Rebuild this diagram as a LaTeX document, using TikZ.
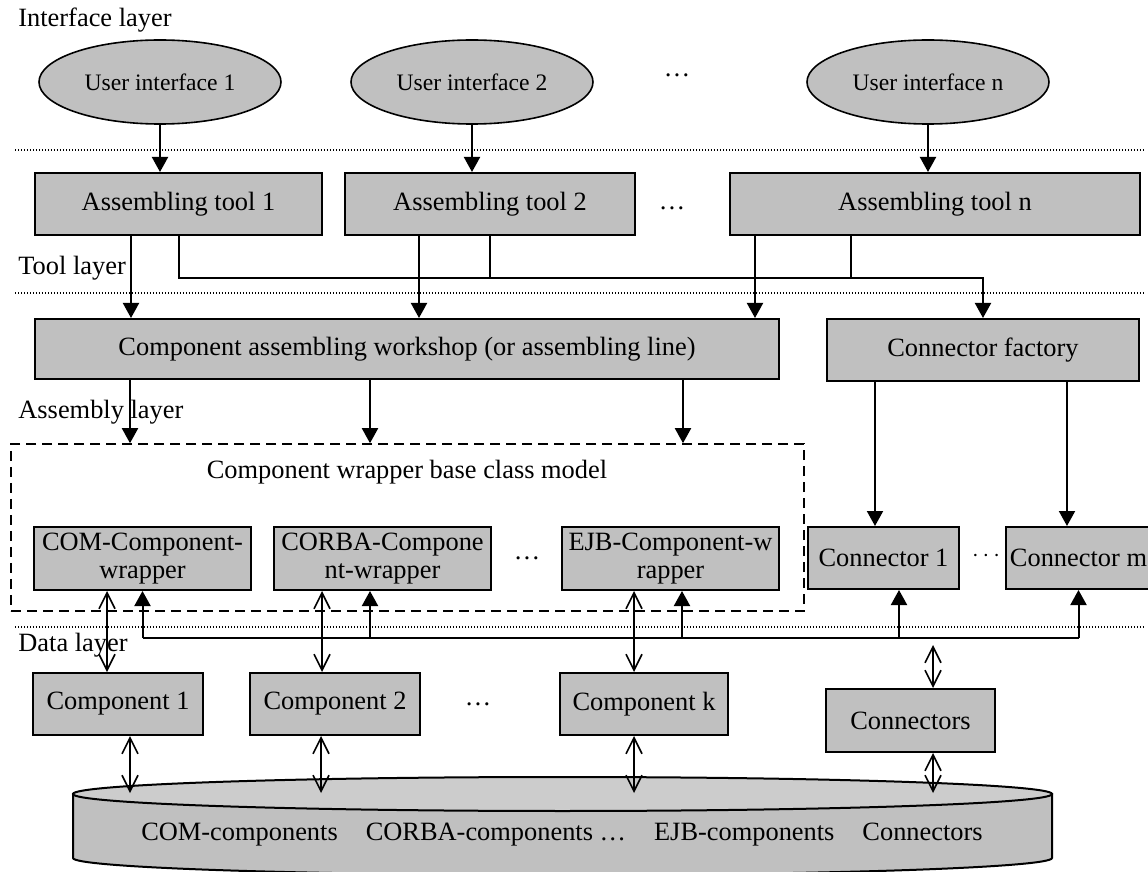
\documentclass[tikz,border=0pt]{standalone}
\usepackage{fontspec}
\setmainfont{Liberation Serif}
\usetikzlibrary{arrows.meta,positioning,shapes.geometric}
\definecolor{boxgray}{RGB}{192,192,192}
\definecolor{topgray}{RGB}{204,204,204}

\begin{document}
\begin{tikzpicture}[
    x=0.5pt, y=-0.5pt,
    every node/.style={font=\fontsize{13.2}{13.6}\selectfont, align=center, inner sep=0pt},
    uinode/.style={ellipse, draw, line width=0.8pt, fill=boxgray,
        minimum width=121pt, minimum height=42pt, font=\fontsize{11.8}{13}\selectfont},
    block/.style={draw, line width=1pt, fill=boxgray, minimum height=31pt},
    wrapbox/.style={block, minimum width=108.5pt, minimum height=31.5pt},
    compbox/.style={block, minimum width=85pt},
    layertxt/.style={anchor=west},
    sepline/.style={line width=0.6pt, dash pattern=on 0.6pt off 0.9pt},
    arr/.style={-{Triangle[length=7.5pt,width=8pt]}, line width=1pt},
    dbl/.style={{Straight Barb[length=8pt,width=8pt]}-{Straight Barb[length=8pt,width=8pt]}, line width=0.8pt}
]
\useasboundingbox (0,0) rectangle (1148,872);

% layers
\node[layertxt] (lyif) at (18,20) {Interface layer};
\node[layertxt] (lytool) at (18,268) {Tool layer};
\node[layertxt] (lyasm) at (18,412) {Assembly layer};
\node[layertxt] (lydata) at (18,645) {Data layer};
\foreach \yy in {150,293,627}
    \draw[sepline] (15,\yy) -- (1145,\yy);

% interface layer
\node[uinode] (ui1) at (160,82) {User interface 1};
\node[uinode] (ui2) at (472,82) {User interface 2};
\node[uinode] (uin) at (928,82) {User interface n};
\node (uidots) at (677,75) {…};

% tool layer
\node[block, minimum width=143.5pt] (tool1) at (178.5,204) {Assembling tool 1};
\node[block, minimum width=145pt] (tool2) at (490,204) {Assembling tool 2};
\node[block, minimum width=205pt] (tooln) at (935,204) {Assembling tool n};
\node (tooldots) at (672,208) {…};

\node[block, minimum width=372pt, minimum height=30pt] (shop) at (407,349)
    {Component assembling workshop (or assembling line)};
\node[block, minimum width=156pt] (factory) at (983,350) {Connector factory};

% assembly layer
\node[draw, line width=0.8pt, dash pattern=on 5pt off 3pt,
    minimum width=396.5pt, minimum height=83.5pt] (wrapbase) at (407.5,527.5) {};
\node (wraptxt) at (407,472) {Component wrapper base class model};
\node[wrapbox] (comw) at (142.5,558.5) {COM-Component-\\wrapper};
\node[wrapbox] (corbaw) at (382.5,558.5) {CORBA-Compone\\nt-wrapper};
\node[wrapbox] (ejbw) at (670.5,558.5) {EJB-Component-w\\rapper};
\node (wdots) at (527,558) {…};
\node[block, minimum width=75.5pt] (conn1) at (883.5,558) {Connector 1};
\node[block, minimum width=72.5pt] (connm) at (1078.5,558) {Connector m};
\node (cdots) at (986,556) {$\cdots$};

% data layer
\node[compbox] (comp1) at (118,704) {Component 1};
\node[compbox] (comp2) at (335,704) {Component 2};
\node[compbox, minimum width=84pt] (compk) at (644,704) {Component k};
\node (compdots) at (478,704) {…};
\node[block, minimum width=84.5pt, minimum height=31.5pt] (connrepo) at (910.5,720.5) {Connectors};

% repository
\filldraw[fill=boxgray, line width=1pt] (73,794) -- (73,858)
    arc[start angle=180, end angle=0, x radius=489.5, y radius=17] -- (1052,794) -- cycle;
\filldraw[fill=topgray, line width=1pt] (562.5,794) ellipse[x radius=489.5, y radius=17];
\node (repo) at (562,835)
    {COM-components\hspace{14pt}CORBA-components …\hspace{14pt}EJB-components\hspace{14pt}Connectors};

% taps
\coordinate (tbus) at (0,278);
\coordinate (dbus) at (0,638);
\coordinate (dbtop) at (0,793);
\coordinate (t1a) at ([xshift=-23.75pt]tool1.south);
\coordinate (t2a) at ([xshift=-35.5pt]tool2.south);
\coordinate (tna) at ([xshift=-90pt]tooln.south);
\coordinate (tnb) at ([xshift=-42pt]tooln.south);
\coordinate (s1) at ([xshift=-138.5pt]shop.south);
\coordinate (s2) at ([xshift=-18.5pt]shop.south);
\coordinate (s3) at ([xshift=138pt]shop.south);
\coordinate (f1) at ([xshift=-54pt]factory.south);
\coordinate (f2) at ([xshift=42pt]factory.south);
\coordinate (cwa) at ([xshift=-17.75pt]comw.south);
\coordinate (cra) at ([xshift=-30.25pt]corbaw.south);
\coordinate (crb) at ([xshift=-6.25pt]corbaw.south);
\coordinate (ewa) at ([xshift=-18.25pt]ejbw.south);
\coordinate (ewb) at ([xshift=5.75pt]ejbw.south);
\coordinate (c1b) at ([xshift=7.75pt]conn1.south);
\coordinate (cmb) at (connm.south);
\coordinate (p1) at ([xshift=6pt]comp1.south);
\coordinate (p2) at ([xshift=-7pt]comp2.south);
\coordinate (pk) at ([xshift=-5pt]compk.south);
\coordinate (rtop) at ([xshift=11.25pt]connrepo.north);
\coordinate (rbot) at ([xshift=11.25pt]connrepo.south);
\coordinate (rfree) at (933,645);

% interface -> tools
\draw[arr] (ui1.south) -- (ui1.south |- tool1.north);
\draw[arr] (ui2.south) -- (ui2.south |- tool2.north);
\draw[arr] (uin.south) -- (uin.south |- tooln.north);

% tools -> workshop / factory
\draw[arr] (t1a) -- (t1a |- shop.north);
\draw[arr] (t2a) -- (t2a |- shop.north);
\draw[arr] (tna) -- (tna |- shop.north);
\draw[arr] (tool1.south) -- (tool1.south |- tbus) -- (factory.north |- tbus) -- (factory.north);
\draw[line width=1pt] (tool2.south) -- (tool2.south |- tbus);
\draw[line width=1pt] (tnb) -- (tnb |- tbus);

% workshop -> wrappers, factory -> connectors
\draw[arr] (s1) -- (s1 |- wrapbase.north);
\draw[arr] (s2) -- (s2 |- wrapbase.north);
\draw[arr] (s3) -- (s3 |- wrapbase.north);
\draw[arr] (f1) -- (f1 |- conn1.north);
\draw[arr] (f2) -- (f2 |- connm.north);

% data bus
\draw[line width=1pt] (comw.south |- dbus) -- (cmb |- dbus);
\draw[arr] (comw.south |- dbus) -- (comw.south);
\draw[arr] (crb |- dbus) -- (crb);
\draw[arr] (ewb |- dbus) -- (ewb);
\draw[arr] (c1b |- dbus) -- (c1b);
\draw[arr] (cmb |- dbus) -- (cmb);

% wrappers <-> components <-> repository
\draw[dbl] (cwa) -- (cwa |- comp1.north);
\draw[dbl] (cra) -- (cra |- comp2.north);
\draw[dbl] (ewa) -- (ewa |- compk.north);
\draw[dbl] (p1) -- (p1 |- dbtop);
\draw[dbl] (p2) -- (p2 |- dbtop);
\draw[dbl] (pk) -- (pk |- dbtop);
\draw[dbl] (rfree) -- (rtop);
\draw[dbl] (rbot) -- (rbot |- dbtop);
\end{tikzpicture}
\end{document}
